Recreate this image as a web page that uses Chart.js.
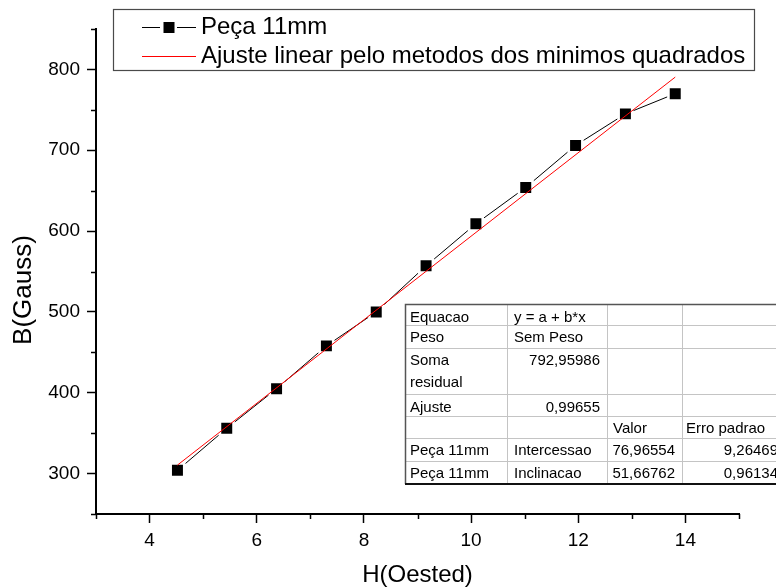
<!DOCTYPE html>
<html>
<head>
<meta charset="utf-8">
<script src="https://cdn.jsdelivr.net/npm/chart.js@4.4.1/dist/chart.umd.min.js"></script>
<style>
  html, body { margin: 0; padding: 0; background: #fff; }
  canvas { display: block; }
</style>
</head>
<body>
<canvas id="c" width="776" height="588"></canvas>
<script>
// Magnetic field B versus applied field H for the 11 mm sample
const hOersted = [4.52, 5.44, 6.37, 7.30, 8.23, 9.16, 10.09, 11.02, 11.95, 12.88, 13.81];
const bGauss   = [304, 356, 405, 458, 500, 557, 609, 654, 706, 745, 770];

// Least-squares fit parameters (y = a + b*x)
const fitIntercept = 76.96554;
const fitSlope = 51.66762;

const xTicks = [4, 6, 8, 10, 12, 14];
const yTicks = [300, 400, 500, 600, 700, 800];
const xMinorTicks = [3, 5, 7, 9, 11, 13, 15];
const yMinorTicks = [250, 350, 450, 550, 650, 750, 850];

const seriesNames = ['Peça 11mm', 'Ajuste linear pelo metodos dos minimos quadrados'];
const axisTitles = { x: 'H(Oested)', y: 'B(Gauss)' };

const fmt = v => v.toFixed(5).replace('.', ',');
const tableRows = [
  ['Equacao', 'y = a + b*x', '', ''],
  ['Peso', 'Sem Peso', '', ''],
  ['Soma\nresidual', '792,95986', '', ''],
  ['Ajuste', '0,99655', '', ''],
  ['', '', 'Valor', 'Erro padrao'],
  ['Peça 11mm', 'Intercessao', fmt(fitIntercept), '9,26469'],
  ['Peça 11mm', 'Inclinacao', fmt(fitSlope), '0,96134']
];

const FONT = "'Liberation Sans', Arial, sans-serif";

const measured = hOersted.map((h, i) => ({ x: h, y: bGauss[i] }));
const xFirst = hOersted[0], xLast = hOersted[hOersted.length - 1];
const fitLine = [
  { x: xFirst, y: fitIntercept + fitSlope * xFirst },
  { x: xLast,  y: fitIntercept + fitSlope * xLast }
];

// Legend box, axis titles, minor ticks and the fit results table
const overlay = {
  id: 'overlay',
  afterDraw(chart) {
    const { ctx, scales: { x, y }, chartArea } = chart;
    ctx.save();

    // minor ticks
    ctx.strokeStyle = '#000';
    ctx.lineWidth = 1.5;
    xMinorTicks.forEach(v => {
      const px = Math.round(x.getPixelForValue(v)) + 0.5;
      ctx.beginPath(); ctx.moveTo(px, x.top); ctx.lineTo(px, x.top + 5); ctx.stroke();
    });
    yMinorTicks.forEach(v => {
      const py = Math.round(y.getPixelForValue(v)) + 0.5;
      ctx.beginPath(); ctx.moveTo(y.right, py); ctx.lineTo(y.right - 5, py); ctx.stroke();
    });

    // axis titles
    ctx.fillStyle = '#000';
    ctx.font = '24px ' + FONT;
    ctx.textAlign = 'center';
    ctx.textBaseline = 'middle';
    ctx.fillText(axisTitles.x, (chartArea.left + chartArea.right) / 2, 575);
    ctx.save();
    ctx.translate(24, 290);
    ctx.rotate(-Math.PI / 2);
    ctx.font = '26px ' + FONT;
    ctx.fillText(axisTitles.y, 0, 0);
    ctx.restore();

    // legend
    const lg = { l: 113, t: 9, r: 754, b: 70 };
    ctx.fillStyle = '#fff';
    ctx.fillRect(lg.l, lg.t, lg.r - lg.l, lg.b - lg.t);
    ctx.strokeStyle = '#4a4a4a';
    ctx.lineWidth = 1.2;
    ctx.strokeRect(lg.l + 0.5, lg.t + 0.5, lg.r - lg.l, lg.b - lg.t);

    ctx.lineWidth = 1;
    ctx.strokeStyle = '#000';
    ctx.beginPath();
    ctx.moveTo(142, 27.5); ctx.lineTo(160, 27.5);
    ctx.moveTo(177, 27.5); ctx.lineTo(196, 27.5);
    ctx.stroke();
    ctx.fillStyle = '#000';
    ctx.fillRect(163.5, 22, 11, 11);
    ctx.strokeStyle = '#ff0000';
    ctx.beginPath(); ctx.moveTo(142, 56.5); ctx.lineTo(196, 56.5); ctx.stroke();

    ctx.fillStyle = '#000';
    ctx.font = '24px ' + FONT;
    ctx.textAlign = 'left';
    ctx.textBaseline = 'middle';
    ctx.fillText(seriesNames[0], 201, 27);
    ctx.fillText(seriesNames[1], 201, 56);

    // fit results table
    const cols = [405, 507, 607, 682, 782];
    const rows = [304, 324.5, 347.5, 394, 415.5, 437.5, 460.5, 484];
    const padL = [5, 7, 6, 4];
    const padR = 7;
    ctx.fillStyle = '#fff';
    ctx.fillRect(cols[0], rows[0], cols[4] - cols[0], rows[7] - rows[0]);

    ctx.strokeStyle = '#c4c4c4';
    ctx.lineWidth = 1;
    for (let i = 1; i < rows.length - 1; i++) {
      ctx.beginPath(); ctx.moveTo(cols[0], Math.round(rows[i]) + 0.5); ctx.lineTo(cols[4], Math.round(rows[i]) + 0.5); ctx.stroke();
    }
    for (let j = 1; j < cols.length - 1; j++) {
      ctx.beginPath(); ctx.moveTo(cols[j] + 0.5, rows[0]); ctx.lineTo(cols[j] + 0.5, rows[7]); ctx.stroke();
    }
    ctx.strokeStyle = '#555';
    ctx.lineWidth = 1.5;
    ctx.beginPath();
    ctx.moveTo(cols[4], rows[0] + 0.5); ctx.lineTo(cols[0] + 0.5, rows[0] + 0.5); ctx.lineTo(cols[0] + 0.5, rows[7]);
    ctx.stroke();
    ctx.strokeStyle = '#111';
    ctx.lineWidth = 2;
    ctx.beginPath(); ctx.moveTo(cols[0], rows[7]); ctx.lineTo(cols[4], rows[7]); ctx.stroke();

    ctx.font = '15px ' + FONT;
    ctx.textBaseline = 'alphabetic';
    ctx.fillStyle = '#000';
    tableRows.forEach((row, i) => {
      row.forEach((txt, j) => {
        if (!txt) return;
        const numeric = /^[\d,]+$/.test(txt);
        const lines = txt.split('\n');
        lines.forEach((ln, k) => {
          const by = rows[i] + 17.5 + k * 22;
          if (numeric) {
            ctx.textAlign = 'right';
            ctx.fillText(ln, cols[j + 1] - padR + (j === 3 ? 3 : 0), by);
          } else {
            ctx.textAlign = 'left';
            ctx.fillText(ln, cols[j] + padL[j], by);
          }
        });
      });
    });

    ctx.restore();
  }
};

const axisFont = { family: FONT, size: 19 };

new Chart(document.getElementById('c'), {
  type: 'scatter',
  data: {
    datasets: [
      {
        label: seriesNames[1],
        data: fitLine,
        showLine: true,
        borderColor: '#ff0000',
        borderWidth: 1,
        pointRadius: 0,
        order: 0
      },
      {
        label: seriesNames[0],
        data: measured,
        showLine: true,
        borderColor: '#000',
        borderWidth: 1,
        pointStyle: 'rect',
        pointRadius: 9.6,
        pointBackgroundColor: '#000',
        // white rim leaves a small gap where the connecting line meets each square
        pointBorderColor: '#fff',
        pointBorderWidth: 2.6,
        order: 1
      }
    ]
  },
  options: {
    responsive: false,
    animation: false,
    layout: { padding: { top: 29, right: 37, left: 0, bottom: 0 } },
    plugins: { legend: { display: false }, tooltip: { enabled: false } },
    scales: {
      x: {
        type: 'linear',
        min: 3,
        max: 15,
        afterBuildTicks: s => { s.ticks = xTicks.map(v => ({ value: v })); },
        afterFit: s => { s.height = 74; },
        grid: { drawOnChartArea: false, drawTicks: true, tickLength: 9, tickColor: '#000', tickWidth: 1.5 },
        border: { display: true, color: '#000', width: 2 },
        ticks: { color: '#000', font: axisFont, padding: 6, maxRotation: 0, autoSkip: false }
      },
      y: {
        type: 'linear',
        min: 250,
        max: 850,
        afterBuildTicks: s => { s.ticks = yTicks.map(v => ({ value: v })); },
        afterFit: s => { s.width = 96; },
        grid: { drawOnChartArea: false, drawTicks: true, tickLength: 9, tickColor: '#000', tickWidth: 1.5 },
        border: { display: true, color: '#000', width: 2 },
        ticks: { color: '#000', font: axisFont, padding: 7, autoSkip: false }
      }
    }
  },
  plugins: [overlay]
});
</script>
</body>
</html>
